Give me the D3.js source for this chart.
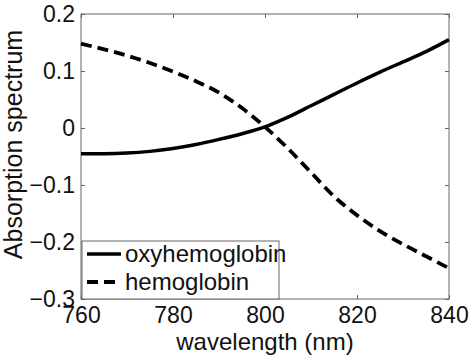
<!DOCTYPE html>
<html><head><meta charset="utf-8">
<script src="https://cdn.jsdelivr.net/npm/d3@7"></script>
<style>body{margin:0;background:#fff}svg{display:block}text{font-family:"Liberation Sans",Arial,sans-serif}</style>
</head><body><svg id="c" width="474" height="359"></svg>
<script>
const wavelengths = [760,765,770,775,780,785,790,795,800,805,810,815,820,825,830,835,840];
const oxyhemoglobin = [-0.045,-0.045,-0.044,-0.041,-0.036,-0.029,-0.020,-0.010,0.002,0.019,0.039,0.059,0.079,0.098,0.116,0.134,0.155];
const hemoglobin = [0.148,0.138,0.127,0.114,0.099,0.082,0.062,0.035,0.002,-0.036,-0.078,-0.120,-0.153,-0.181,-0.204,-0.225,-0.246];
const xTicks = [760,780,800,820,840];
const yTicks = [-0.3,-0.2,-0.1,0,0.1,0.2];
const seriesNames = ["oxyhemoglobin","hemoglobin"];

const svg = d3.select("#c");
const L=81,R=449,T=14,B=299;
const x = d3.scaleLinear().domain([760,840]).range([L,R]);
const y = d3.scaleLinear().domain([-0.3,0.2]).range([B,T]);
const axisCol="#666", txtCol="#111", fs=23;

svg.append("rect").attr("x",L).attr("y",T).attr("width",R-L).attr("height",B-T)
  .attr("fill","none").attr("stroke",axisCol).attr("stroke-width",1);

const fmtY = v => v===0 ? "0" : d3.format(".1f")(v);
const gx = svg.append("g").attr("transform",`translate(0,${B})`)
  .call(d3.axisBottom(x).tickValues(xTicks).tickSize(-4).tickPadding(7).tickFormat(d3.format("d")));
const gxt = svg.append("g").attr("transform",`translate(0,${T})`)
  .call(d3.axisTop(x).tickValues(xTicks).tickSize(-4).tickFormat(""));
const gy = svg.append("g").attr("transform",`translate(${L},0)`)
  .call(d3.axisLeft(y).tickValues(yTicks).tickSize(-4).tickPadding(6).tickFormat(fmtY));
const gyr = svg.append("g").attr("transform",`translate(${R},0)`)
  .call(d3.axisRight(y).tickValues(yTicks).tickSize(-4).tickFormat(""));
[gx,gxt,gy,gyr].forEach(g=>{
  g.select(".domain").remove();
  g.selectAll(".tick line").attr("stroke",axisCol);
  g.selectAll("text").attr("fill",txtCol).style("font-size",fs+"px").style("font-family","'Liberation Sans',Arial,sans-serif");
});
gx.selectAll("text").attr("dy","0.75em");

const line = d3.line().x((d,i)=>x(wavelengths[i])).y(d=>y(d)).curve(d3.curveMonotoneX);
svg.append("path").datum(oxyhemoglobin).attr("d",line).attr("fill","none")
  .attr("stroke","#000").attr("stroke-width",3.5);
svg.append("path").datum(hemoglobin).attr("d",line).attr("fill","none")
  .attr("stroke","#000").attr("stroke-width",3.8).attr("stroke-dasharray","11,6");

svg.append("text").attr("x",(L+R)/2).attr("y",350).attr("text-anchor","middle")
  .attr("fill",txtCol).style("font-size","24px").text("wavelength (nm)");
svg.append("text").attr("transform",`translate(22,${(T+B)/2-12}) rotate(-90)`).attr("text-anchor","middle")
  .attr("fill",txtCol).style("font-size","25px").text("Absorption spectrum");

const lg = svg.append("g");
lg.append("rect").attr("x",82).attr("y",241).attr("width",197).attr("height",58)
  .attr("fill","#fff").attr("stroke",axisCol).attr("stroke-width",1);
const items=[{name:seriesNames[0],dash:null,yy:254,w:3.5},{name:seriesNames[1],dash:"11,6",yy:282,w:3.8}];
items.forEach(it=>{
  lg.append("line").attr("x1",87).attr("x2",121).attr("y1",it.yy).attr("y2",it.yy)
    .attr("stroke","#000").attr("stroke-width",it.w).attr("stroke-dasharray",it.dash);
  lg.append("text").attr("x",125).attr("y",it.yy+8).attr("fill",txtCol)
    .style("font-size","24px").text(it.name);
});
</script></body></html>
